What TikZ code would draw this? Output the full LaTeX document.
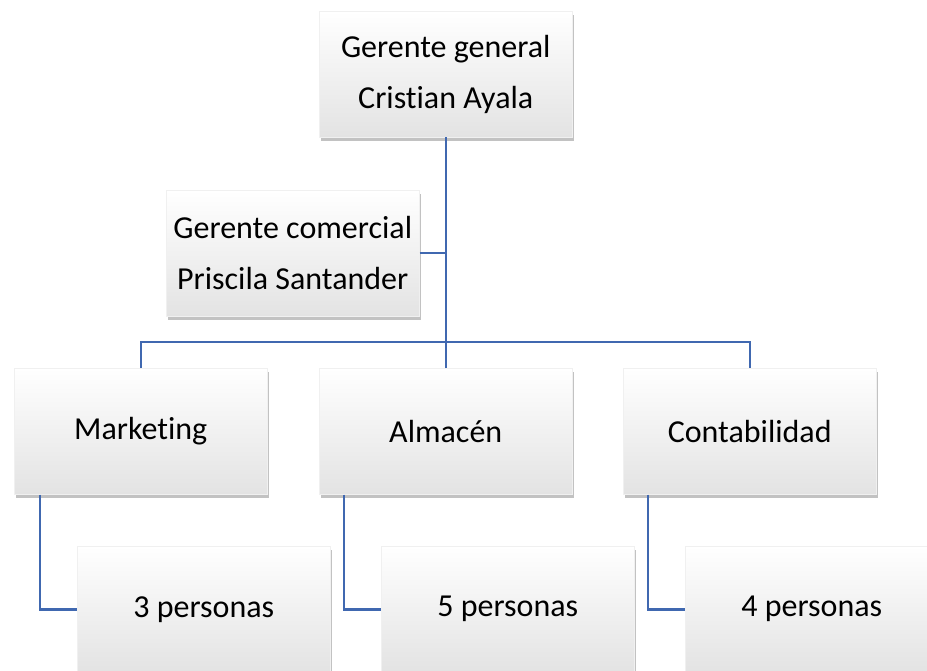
\documentclass[tikz,border=0pt]{standalone}
\usepackage{fontspec}
\setmainfont{Carlito}[RawFeature=-liga]
\usetikzlibrary{shadows}
\definecolor{linkblue}{RGB}{64,104,176}
\tikzset{
  orgbox/.style={rectangle, anchor=north west, minimum width=253pt, minimum height=126pt,
    inner sep=0pt, align=center, draw=black!6, line width=0.5pt,
    top color=white, middle color=white, bottom color=black!11,
    drop shadow={shadow xshift=2pt, shadow yshift=-4pt, opacity=0.4, fill=black!60},
    font=\fontsize{32}{51}\selectfont},
  conn/.style={draw=linkblue, line width=2.5pt}
}
\begin{document}
\begin{tikzpicture}[x=1pt,y=-1pt]
\useasboundingbox (0,0) rectangle (927,671);
\begin{scope}
\clip (0,0) rectangle (927,671);
\node[orgbox] (gg) at (319,11) {Gerente general\\Cristian Ayala};
\node[orgbox] (gc) at (166,190) {Gerente comercial\\Priscila Santander};
\node[orgbox] (mk) at (14,368) {Marketing};
\node[orgbox] (al) at (319,368) {Almacén};
\node[orgbox] (ct) at (623,368) {Contabilidad};
\node[orgbox] (p3) at (77,546) {3 personas};
\node[orgbox] (p5) at (381,546) {5 personas};
\node[orgbox] (p4) at (685,546) {4 personas};
\coordinate (bus) at (0,342);
\draw[conn] (gg.south) -- (gg.south |- bus);
\draw[conn] (gc.east) -- (gc.east -| gg.south);
\draw[conn] (mk.north) -- (mk.north |- bus) -- (ct.north |- bus) -- (ct.north);
\draw[conn] (al.north) -- (al.north |- bus);
\draw[conn] ([xshift=26pt]mk.south west) |- (p3.west);
\draw[conn] ([xshift=25pt]al.south west) |- (p5.west);
\draw[conn] ([xshift=25pt]ct.south west) |- (p4.west);
\end{scope}
\end{tikzpicture}
\end{document}
